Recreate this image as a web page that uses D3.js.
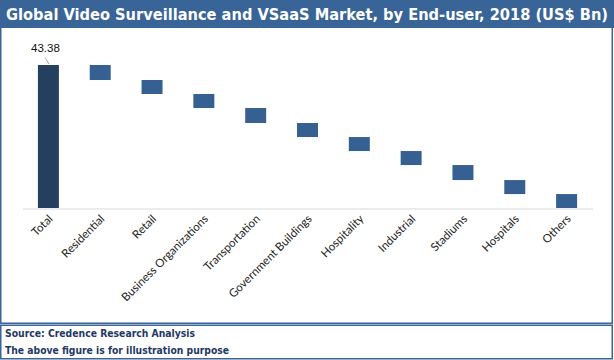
<!DOCTYPE html>
<html><head><meta charset="utf-8">
<script src="https://cdn.jsdelivr.net/npm/d3@7"></script>
<style>body{margin:0;background:#fff}svg{display:block}</style>
</head><body><svg id="c" width="614" height="360"></svg>
<script>
const categories = ["Total","Residential","Retail","Business Organizations","Transportation","Government Buildings","Hospitality","Industrial","Stadiums","Hospitals","Others"];
const totalValue = 43.38;
const segmentValues = [4.55,4.25,4.25,4.55,4.25,4.25,4.25,4.55,4.25,4.23];
const titleText = "Global Video Surveillance and VSaaS Market, by End-user, 2018 (US$ Bn)";
const footerLines = ["Source: Credence Research Analysis","The above figure is for illustration purpose"];

const svg = d3.select("#c");
const blue = "#386497";

// header
svg.append("rect").attr("x",0).attr("y",0).attr("width",614).attr("height",28).attr("fill",blue);
svg.append("text").attr("x",6).attr("y",20).attr("fill","#fff")
  .attr("font-family","'DejaVu Sans Condensed','DejaVu Sans',sans-serif").attr("font-weight","bold").attr("font-size",15)
  .attr("textLength",602).attr("lengthAdjust","spacingAndGlyphs").text(titleText);
// borders
svg.append("rect").attr("x",0.75).attr("y",0.75).attr("width",611.5).attr("height",322.5).attr("fill","none").attr("stroke",blue).attr("stroke-width",1.5);
svg.append("rect").attr("x",0.75).attr("y",325.25).attr("width",611.5).attr("height",33.5).attr("fill","none").attr("stroke",blue).attr("stroke-width",1.5);

// footer
const fl = [[337,190],[354,224]];
footerLines.forEach((t,i)=>{
  svg.append("text").attr("x",5).attr("y",fl[i][0]).attr("fill","#1f3864")
   .attr("font-family","'DejaVu Sans Condensed','DejaVu Sans',sans-serif").attr("font-weight","bold").attr("font-size",11)
   .attr("textLength",fl[i][1]).attr("lengthAdjust","spacingAndGlyphs").text(t);
});

// waterfall data
const rows = [{cat:categories[0], lo:0, hi:totalValue, total:true}];
let cur = totalValue;
segmentValues.forEach((v,i)=>{ rows.push({cat:categories[i+1], lo:cur-v, hi:cur, total:false}); cur -= v; });

const x = d3.scaleBand().domain(categories).range([22.5,592.5]).paddingInner(0.595).paddingOuter(0.2975);
const y = d3.scaleLinear().domain([0,50]).range([208,208-143*50/totalValue]);

svg.append("g").selectAll("rect").data(rows).join("rect")
  .attr("x",d=>x(d.cat)).attr("width",x.bandwidth())
  .attr("y",d=>y(d.hi)).attr("height",d=>y(d.lo)-y(d.hi))
  .attr("fill",d=>d.total?"#243f60":"#376092");

// axis
const ax = svg.append("g").attr("transform","translate(0,208.5)").call(d3.axisBottom(x).tickSize(0).tickPadding(0));
ax.select(".domain").attr("stroke","#d9d9d9").attr("stroke-width",1.2);
ax.selectAll("text").attr("font-family","Lato,sans-serif").attr("font-size",11.5).attr("fill","#222")
  .attr("text-anchor","end").attr("dy",null).attr("y",0)
  .attr("transform","translate(5,11) rotate(-45)");

// data label
const tx = x(categories[0]) + x.bandwidth()/2;
svg.append("line").attr("x1",tx-3).attr("y1",y(totalValue)-7).attr("x2",tx+0.5).attr("y2",y(totalValue)-1)
  .attr("stroke","#a6a6a6").attr("stroke-width",1);
svg.append("text").attr("x",tx-3).attr("y",y(totalValue)-13).attr("text-anchor","middle")
  .attr("font-family","'Liberation Sans',Arial,sans-serif").attr("font-size",11.5).attr("fill","#111").text(d3.format(".2f")(totalValue));
</script></body></html>
